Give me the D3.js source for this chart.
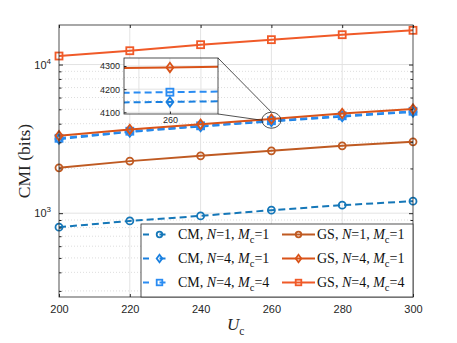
<!DOCTYPE html>
<html>
<head>
<meta charset="utf-8">
<script src="https://cdn.jsdelivr.net/npm/d3@7"></script>
<style>
  body { margin: 0; background: #fff; }
  svg { display: block; }
  .tick text { font-family: 'Liberation Sans', Arial, sans-serif; }
</style>
</head>
<body>
<div id="chart"></div>
<script>
const uc = [200, 220, 240, 260, 280, 300]

const cmN1M1 = [805, 887, 959, 1048, 1132, 1205]
const cmN4M1 = [3150, 3520, 3830, 4145, 4470, 4800]
const cmN4M4 = [3190, 3560, 3870, 4187, 4520, 4850]
const gsN1M1 = [2018, 2240, 2432, 2627, 2840, 3020]
const gsN4M1 = [3316, 3661, 3960, 4294, 4690, 5015]
const gsN4M4 = [11410, 12385, 13600, 14700, 15875, 16996]

const xTicks = [200, 220, 240, 260, 280, 300]
const insetYTicks = [4100, 4200, 4300]

const series = [
  { name: 'CM', n: 1, m: 1, values: cmN1M1, color: '#1577b8', marker: 'circle', dash: true },
  { name: 'CM', n: 4, m: 1, values: cmN4M1, color: '#1a80e0', marker: 'diamond', dash: true },
  { name: 'CM', n: 4, m: 4, values: cmN4M4, color: '#2a8cf2', marker: 'square', dash: true },
  { name: 'GS', n: 1, m: 1, values: gsN1M1, color: '#bf5a22', marker: 'circle', dash: false },
  { name: 'GS', n: 4, m: 1, values: gsN4M1, color: '#d95319', marker: 'diamond', dash: false },
  { name: 'GS', n: 4, m: 4, values: gsN4M4, color: '#f05a28', marker: 'square', dash: false }
]

const width = 457
const height = 343
const plot = { left: 59, right: 413, top: 25, bottom: 297 }

const svg = d3.select('#chart')
  .append('svg')
  .attr('width', width)
  .attr('height', height)

const x = d3.scaleLinear().domain([200, 300]).range([plot.left, plot.right])
const y = d3.scaleLog().domain([273, 18450]).range([plot.bottom, plot.top])

// grid
const grid = svg.append('g')
const minorY = []
for (let p = 2; p <= 4; p++) {
  for (let k = 1; k < 10; k++) {
    const v = k * Math.pow(10, p)
    if (v > 273 && v < 18450) minorY.push(v)
  }
}
grid.selectAll('line.minor')
  .data(minorY.filter(v => v !== 1000 && v !== 10000))
  .join('line')
    .attr('x1', plot.left).attr('x2', plot.right)
    .attr('y1', d => y(d)).attr('y2', d => y(d))
    .attr('stroke', '#d4d4d4')
    .attr('stroke-width', 0.8)
    .attr('stroke-dasharray', '1,2')
grid.selectAll('line.major')
  .data([1000, 10000])
  .join('line')
    .attr('x1', plot.left).attr('x2', plot.right)
    .attr('y1', d => y(d)).attr('y2', d => y(d))
    .attr('stroke', '#e3e3e3')
    .attr('stroke-width', 1)
grid.selectAll('line.vx')
  .data(xTicks.slice(1, -1))
  .join('line')
    .attr('x1', d => x(d)).attr('x2', d => x(d))
    .attr('y1', plot.top).attr('y2', plot.bottom)
    .attr('stroke', '#e3e3e3')
    .attr('stroke-width', 1)

function drawMarker(g, type, cx, cy, color, size) {
  const s = size
  if (type === 'circle') {
    g.append('circle').attr('cx', cx).attr('cy', cy).attr('r', s)
      .attr('fill', 'none').attr('stroke', color).attr('stroke-width', 1.8)
  } else if (type === 'square') {
    g.append('rect').attr('x', cx - s).attr('y', cy - s).attr('width', 2 * s).attr('height', 2 * s)
      .attr('fill', 'none').attr('stroke', color).attr('stroke-width', 1.8)
  } else {
    g.append('path')
      .attr('d', `M${cx},${cy - s * 1.35}L${cx + s},${cy}L${cx},${cy + s * 1.35}L${cx - s},${cy}Z`)
      .attr('fill', 'none').attr('stroke', color).attr('stroke-width', 1.8)
  }
}

function drawSeries(g, xs, ys, list, markerSize, onlyIdx) {
  list.forEach(s => {
    const line = d3.line().x((d, i) => xs(uc[i])).y(d => ys(d))
    g.append('path')
      .datum(s.values)
      .attr('d', line)
      .attr('fill', 'none')
      .attr('stroke', s.color)
      .attr('stroke-width', 2)
      .attr('stroke-dasharray', s.dash ? '7,4' : null)
    s.values.forEach((v, i) => {
      if (onlyIdx == null || onlyIdx === i) drawMarker(g, s.marker, xs(uc[i]), ys(v), s.color, markerSize)
    })
  })
}

const lines = svg.append('g')
drawSeries(lines, x, y, series, 3.5)

// axes box
const frame = svg.append('g')
frame.append('rect')
  .attr('x', plot.left).attr('y', plot.top)
  .attr('width', plot.right - plot.left).attr('height', plot.bottom - plot.top)
  .attr('fill', 'none').attr('stroke', '#262626').attr('stroke-width', 0.8)

const xAxis = svg.append('g')
  .attr('transform', `translate(0,${plot.bottom})`)
  .call(d3.axisBottom(x).tickValues(xTicks).tickSize(-3).tickPadding(8).tickFormat(d3.format('d')))
xAxis.select('.domain').remove()
xAxis.selectAll('text').attr('font-size', 11).attr('fill', '#262626')
xAxis.selectAll('line').attr('stroke', '#262626')

svg.append('g')
  .attr('transform', `translate(0,${plot.top})`)
  .call(d3.axisTop(x).tickValues(xTicks).tickSize(-3).tickFormat(''))
  .call(g => g.select('.domain').remove())
  .selectAll('line').attr('stroke', '#262626')

const yTickVals = minorY
;[[plot.left, d3.axisLeft], [plot.right, d3.axisRight]].forEach(([px, ax]) => {
  const g = svg.append('g')
    .attr('transform', `translate(${px},0)`)
    .call(ax(y).tickValues(yTickVals).tickSize(-2.5).tickFormat(''))
  g.select('.domain').remove()
  g.selectAll('.tick line')
    .attr('x2', d => (d === 1000 || d === 10000 ? (px === plot.left ? 4 : -4) : (px === plot.left ? 2.5 : -2.5)))
    .attr('stroke', '#262626')
})

// y tick labels 10^3 / 10^4
;[[1000, '3'], [10000, '4']].forEach(([v, e]) => {
  const t = svg.append('text')
    .attr('x', plot.left - 8)
    .attr('y', y(v) + 4)
    .attr('text-anchor', 'end')
    .attr('font-family', 'Liberation Sans, Arial, sans-serif')
    .attr('font-size', 11)
    .attr('fill', '#262626')
  t.append('tspan').text('10')
  t.append('tspan').attr('dy', -5).attr('font-size', 8).text(e)
})

// axis labels
svg.append('text')
  .attr('transform', `translate(30,${(plot.top + plot.bottom) / 2}) rotate(-90)`)
  .attr('text-anchor', 'middle')
  .attr('font-family', 'Liberation Serif, Times New Roman, serif')
  .attr('font-size', 17.5)
  .attr('fill', '#262626')
  .text('CMI (bits)')

const xl = svg.append('text')
  .attr('x', 227)
  .attr('y', 330)
  .attr('font-family', 'Liberation Serif, Times New Roman, serif')
  .attr('font-size', 17)
  .attr('fill', '#262626')
xl.append('tspan').attr('font-style', 'italic').text('U')
xl.append('tspan').attr('dy', 5).attr('font-size', 11.5).text('c')

// legend
const legend = svg.append('g')
legend.append('rect')
  .attr('x', 141).attr('y', 224)
  .attr('width', plot.right - 141).attr('height', plot.bottom - 224)
  .attr('fill', '#fff').attr('stroke', '#262626').attr('stroke-width', 0.8)

series.forEach((s, i) => {
  const col = i < 3 ? 0 : 1
  const row = i % 3
  const lx = col === 0 ? 143 : 282
  const cy = 234.5 + row * 24
  const g = legend.append('g')
  g.append('line')
    .attr('x1', lx).attr('x2', lx + 33)
    .attr('y1', cy).attr('y2', cy)
    .attr('stroke', s.color).attr('stroke-width', 2)
    .attr('stroke-dasharray', s.dash ? '6,10.5' : null)
  drawMarker(g, s.marker, lx + 16.5, cy, s.color, 2.8)
  const t = g.append('text')
    .attr('x', lx + 35)
    .attr('y', cy + 4.5)
    .attr('font-family', 'Liberation Serif, Times New Roman, serif')
    .attr('font-size', 14)
    .attr('fill', '#111')
  t.append('tspan').text(`${s.name}, `)
  t.append('tspan').attr('font-style', 'italic').text('N')
  t.append('tspan').text(`=${s.n}, `)
  t.append('tspan').attr('font-style', 'italic').text('M')
  t.append('tspan').attr('dy', 4).attr('font-size', 10.5).text('c')
  t.append('tspan').attr('dy', -4).text(`=${s.m}`)
})

// zoom ellipse and connectors
const ex = x(260)
const ey = y(4220)
svg.append('ellipse')
  .attr('cx', ex).attr('cy', ey).attr('rx', 9.5).attr('ry', 8)
  .attr('fill', 'none').attr('stroke', '#262626').attr('stroke-width', 0.8)

const inset = { left: 124, right: 218, top: 58, bottom: 114 }
svg.append('line')
  .attr('x1', inset.right).attr('y1', inset.top).attr('x2', ex).attr('y2', ey - 8)
  .attr('stroke', '#262626').attr('stroke-width', 0.8)
svg.append('line')
  .attr('x1', inset.right).attr('y1', inset.bottom).attr('x2', ex - 9.5).attr('y2', ey)
  .attr('stroke', '#262626').attr('stroke-width', 0.8)

// inset: a very narrow window around Uc = 260
const ix = d3.scaleLinear().domain([259.852, 260.155]).range([inset.left, inset.right])
const iy = d3.scaleLinear().domain([4092.7, 4334.6]).range([inset.bottom, inset.top])
const ig = svg.append('g')
ig.append('rect')
  .attr('x', inset.left).attr('y', inset.top)
  .attr('width', inset.right - inset.left).attr('height', inset.bottom - inset.top)
  .attr('fill', '#fff')
ig.selectAll('line.im')
  .data([4150, 4250])
  .join('line')
    .attr('x1', inset.left).attr('x2', inset.right)
    .attr('y1', d => iy(d)).attr('y2', d => iy(d))
    .attr('stroke', '#d4d4d4').attr('stroke-dasharray', '1,2').attr('stroke-width', 0.8)
ig.selectAll('line.ih')
  .data(insetYTicks)
  .join('line')
    .attr('x1', inset.left).attr('x2', inset.right)
    .attr('y1', d => iy(d)).attr('y2', d => iy(d))
    .attr('stroke', '#e3e3e3')
ig.selectAll('line.iv')
  .data([259.9, 260, 260.1])
  .join('line')
    .attr('x1', d => ix(d)).attr('x2', d => ix(d))
    .attr('y1', inset.top).attr('y2', inset.bottom)
    .attr('stroke', '#e3e3e3')

const clip = svg.append('clipPath').attr('id', 'inset-clip')
clip.append('rect')
  .attr('x', inset.left).attr('y', inset.top)
  .attr('width', inset.right - inset.left).attr('height', inset.bottom - inset.top)
const inner = ig.append('g').attr('clip-path', 'url(#inset-clip)')
drawSeries(inner, ix, iy, series.filter(s => s.values[3] > 4000 && s.values[3] < 4400), 3.5, 3)

ig.append('rect')
  .attr('x', inset.left).attr('y', inset.top)
  .attr('width', inset.right - inset.left).attr('height', inset.bottom - inset.top)
  .attr('fill', 'none').attr('stroke', '#262626').attr('stroke-width', 0.8)

const iya = ig.append('g')
  .attr('transform', `translate(${inset.left},0)`)
  .call(d3.axisLeft(iy).tickValues(insetYTicks).tickSize(-2.5).tickPadding(4).tickFormat(d3.format('d')))
iya.select('.domain').remove()
iya.selectAll('text').attr('font-size', 9).attr('fill', '#262626')
iya.selectAll('line').attr('stroke', '#262626')

const ixa = ig.append('g')
  .attr('transform', `translate(0,${inset.bottom})`)
  .call(d3.axisBottom(ix).tickValues([260]).tickSize(-2.5).tickPadding(3).tickFormat(d3.format('d')))
ixa.select('.domain').remove()
ixa.selectAll('text').attr('font-size', 9).attr('fill', '#262626')
ixa.selectAll('line').attr('stroke', '#262626')
</script>
</body>
</html>
